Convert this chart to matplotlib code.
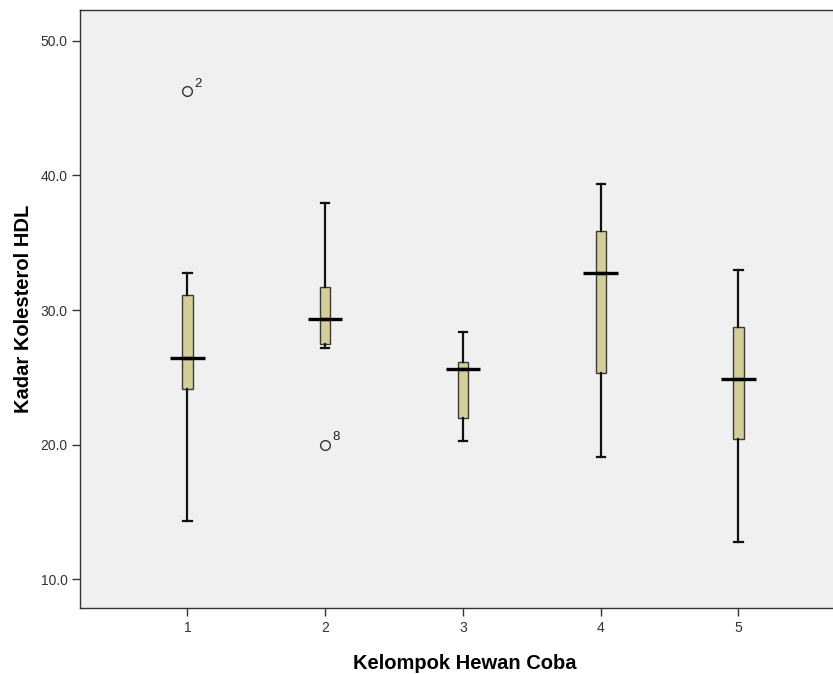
import matplotlib
matplotlib.use("Agg")
import matplotlib.pyplot as plt

plt.rcParams['font.family'] = ['Liberation Sans', 'DejaVu Sans']

groups = [1, 2, 3, 4, 5]
whislo = [14.3, 27.2, 20.3, 19.1, 12.75]
q1 = [24.1, 27.5, 22.0, 25.3, 20.4]
med = [26.4, 29.3, 25.6, 32.75, 24.9]
q3 = [31.1, 31.7, 26.1, 35.9, 28.7]
whishi = [32.75, 37.95, 28.4, 39.4, 33.0]
outliers = [[46.3], [20.0], [], [], []]
outlier_ids = [["2"], ["8"], [], [], []]

yticks = [10, 20, 30, 40, 50]

fig = plt.figure(figsize=(8.33, 6.74), dpi=100)
ax = fig.add_axes([80/833, 66/674, 770/833, 598/674])
ax.set_facecolor('#F0F0F0')

stats = []
for i in range(len(groups)):
    stats.append(dict(med=med[i], q1=q1[i], q3=q3[i], whislo=whislo[i],
                      whishi=whishi[i], fliers=outliers[i], label=str(groups[i])))

ax.bxp(stats, positions=groups, widths=0.075, patch_artist=True,
       boxprops=dict(facecolor='#D4CF99', edgecolor='#3a3a3a', linewidth=1.0),
       whiskerprops=dict(color='#111111', linewidth=1.6),
       capprops=dict(color='#111111', linewidth=1.6),
       capwidths=0.06,
       medianprops=dict(color='#000000', linewidth=2.4),
       flierprops=dict(marker='o', markerfacecolor='none', markeredgecolor='#333333',
                       markersize=7, markeredgewidth=1.0),
       zorder=3)

# widen medians
for i, g in enumerate(groups):
    ax.plot([g - 0.125, g + 0.125], [med[i], med[i]], color='black', lw=2.4, zorder=4,
            solid_capstyle='butt')

for i, g in enumerate(groups):
    for v, lab in zip(outliers[i], outlier_ids[i]):
        ax.annotate(lab, (g, v), xytext=(5, 3), textcoords='offset points',
                    fontsize=9.5, color='#222222')

ax.set_xlim(0.22, 5.81)
ax.set_ylim(7.85, 52.3)
ax.set_yticks(yticks)
ax.set_yticklabels([f"{v:.1f}" for v in yticks], fontsize=10, color='#333333')
ax.set_xticks(groups)
ax.set_xticklabels([str(g) for g in groups], fontsize=10, color='#333333')
ax.tick_params(axis='both', direction='out', length=6, width=1, color='#333333', pad=3)
for s in ax.spines.values():
    s.set_color('#333333')
    s.set_linewidth(1.0)

ax.set_xlabel('Kelompok Hewan Coba', fontsize=14.5, fontweight='bold', labelpad=14)
ax.set_ylabel('Kadar Kolesterol HDL', fontsize=14.5, fontweight='bold', labelpad=5)

fig.savefig('out.png', dpi=100, facecolor='white')
